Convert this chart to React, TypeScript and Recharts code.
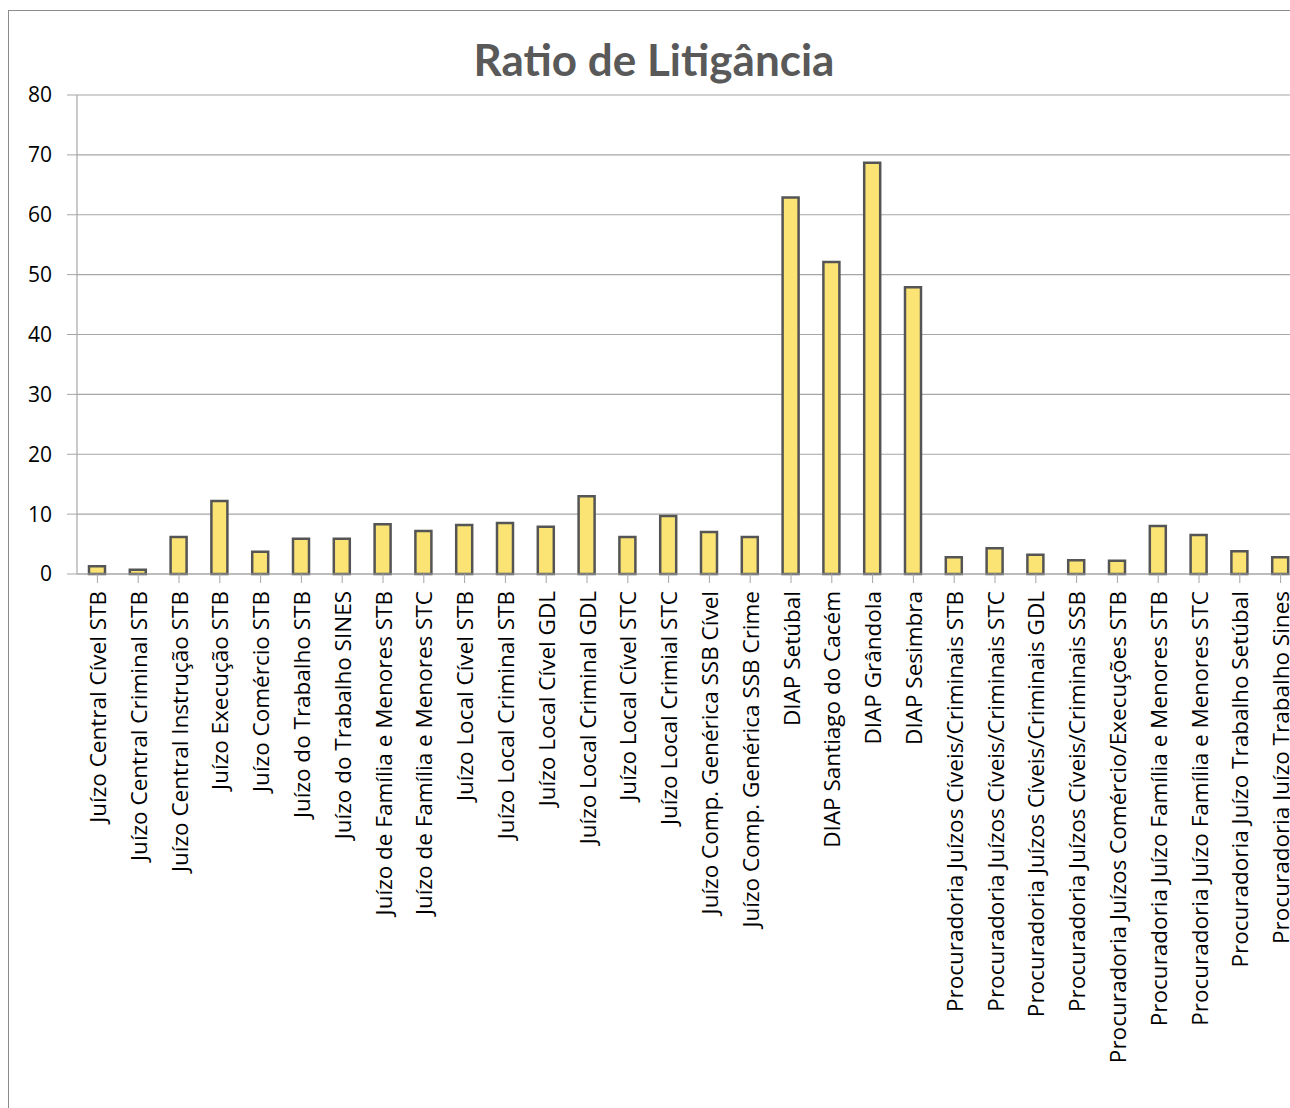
import { BarChart, Bar, XAxis, YAxis, CartesianGrid } from "recharts";

const categories = [
  "Juízo Central Cível STB",
  "Juízo Central Criminal STB",
  "Juízo Central Instrução STB",
  "Juízo Execução STB",
  "Juízo Comércio STB",
  "Juízo do Trabalho STB",
  "Juízo do Trabalho SINES",
  "Juízo de Família e Menores STB",
  "Juízo de Família e Menores STC",
  "Juízo Local Cível STB",
  "Juízo Local Criminal STB",
  "Juízo Local Cível GDL",
  "Juízo Local Criminal GDL",
  "Juízo Local Cível STC",
  "Juízo Local Crimial STC",
  "Juízo Comp. Genérica SSB Cível",
  "Juízo Comp. Genérica SSB Crime",
  "DIAP Setúbal",
  "DIAP Santiago do Cacém",
  "DIAP Grândola",
  "DIAP Sesimbra",
  "Procuradoria Juízos Cíveis/Criminais STB",
  "Procuradoria Juízos Cíveis/Criminais STC",
  "Procuradoria Juízos Cíveis/Criminais GDL",
  "Procuradoria Juízos Cíveis/Criminais SSB",
  "Procuradoria Juízos Comércio/Execuções STB",
  "Procuradoria Juízo Família e Menores STB",
  "Procuradoria Juízo Família e Menores STC",
  "Procuradoria Juízo Trabalho Setúbal",
  "Procuradoria Juízo Trabalho Sines",
];

const ratio = [
  1.3, 0.7, 6.2, 12.2, 3.7, 5.9, 5.9, 8.3, 7.2, 8.2, 8.5, 7.9, 13.0, 6.2, 9.7,
  7.0, 6.2, 62.9, 52.1, 68.7, 47.9, 2.8, 4.3, 3.2, 2.3, 2.2, 8.0, 6.5, 3.8, 2.8,
];

const yTicks = [0, 10, 20, 30, 40, 50, 60, 70, 80];

const data = categories.map((name, i) => ({ name, value: ratio[i] }));

const FONT = "'Open Sans', 'Noto Sans', sans-serif";

const XTick = (props: any) => {
  const { x, y, payload } = props;
  return (
    <text
      x={x}
      y={y}
      transform={`rotate(-90, ${x}, ${y})`}
      textAnchor="end"
      dominantBaseline="central"
      fontFamily={FONT}
      fontSize={22.5}
      fill="#000"
    >
      {payload.value}
    </text>
  );
};

export default function App() {
  return (
    <div style={{ position: "relative", width: 1290, height: 1108 }}>
      <style>{"body{margin:0;overflow:hidden}"}</style>
      <div
        style={{
          position: "absolute",
          left: 8,
          top: 10,
          width: 1300,
          height: 1120,
          border: "1px solid #8c8c8c",
          boxSizing: "border-box",
        }}
      />
      <svg
        width={1290}
        height={100}
        style={{ position: "absolute", left: 0, top: 0 }}
      >
        <text
          x={654}
          y={76}
          textAnchor="middle"
          fontFamily="Lato, sans-serif"
          fontWeight="bold"
          fontSize={44}
          fill="#595959"
        >
          Ratio de Litigância
        </text>
      </svg>
      <div style={{ position: "absolute", left: 0, top: 0 }}>
        <BarChart
          width={1310}
          height={1108}
          data={data}
          margin={{ top: 95, right: 9, left: 0, bottom: 0 }}
          barSize={16}
        >
          <CartesianGrid vertical={false} stroke="#a6a6a6" strokeWidth={1.2} />
          <XAxis
            dataKey="name"
            interval={0}
            height={534}
            tick={<XTick />}
            tickSize={9}
            tickMargin={8}
            stroke="#a6a6a6"
            axisLine={{ stroke: "#a6a6a6", strokeWidth: 1.2 }}
            tickLine={{ stroke: "#a6a6a6" }}
          />
          <YAxis
            width={77}
            domain={[0, 80]}
            ticks={yTicks}
            tickSize={10}
            tickMargin={15}
            axisLine={{ stroke: "#a6a6a6", strokeWidth: 1.2 }}
            tickLine={{ stroke: "#a6a6a6" }}
            tick={{ fontFamily: FONT, fontSize: 21, fill: "#000" }}
            interval={0}
          />
          <Bar
            dataKey="value"
            fill="#fbe474"
            stroke="#555555"
            strokeWidth={2.5}
            isAnimationActive={false}
          />
        </BarChart>
      </div>
    </div>
  );
}
